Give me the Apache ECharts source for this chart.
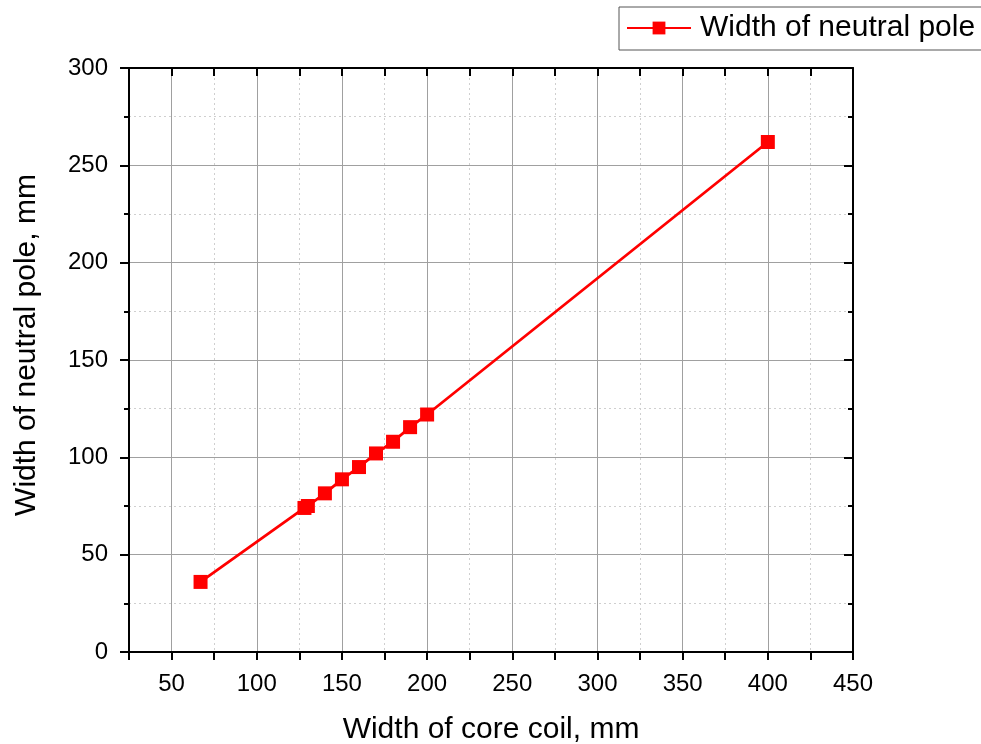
<!DOCTYPE html>
<html>
<head>
<meta charset="utf-8">
<script src="https://cdn.jsdelivr.net/npm/echarts@6/dist/echarts.min.js"></script>
<style>
html,body{margin:0;padding:0;background:#fff;}
#chart{width:981px;height:744px;}
</style>
</head>
<body>
<div id="chart"></div>
<script>
const seriesName = 'Width of neutral pole';
const xName = 'Width of core coil, mm';
const yName = 'Width of neutral pole, mm';
const coreWidth = [67, 128, 130, 140, 150, 160, 170, 180, 190, 200, 400];
const poleWidth = [36, 74, 75, 81.5, 88.7, 95, 102, 108, 115.5, 122, 262];
const xTicks = [50, 100, 150, 200, 250, 300, 350, 400, 450];
const yTicks = [0, 50, 100, 150, 200, 250, 300];

const font = 'Arial, "Liberation Sans", sans-serif';
const data = coreWidth.map((x, i) => [x, poleWidth[i]]);

const chart = echarts.init(document.getElementById('chart'));
chart.setOption({
  animation: false,
  backgroundColor: '#fff',
  textStyle: { fontFamily: font },
  legend: {
    left: 619, top: 7,
    padding: [6, 8, 7, 7],
    borderColor: '#555', borderWidth: 1,
    itemWidth: 64, itemHeight: 16,
    itemGap: 10,
    textStyle: { fontSize: 30, color: '#000', fontFamily: font, padding: [0, 0, 0, 4] },
    data: [seriesName]
  },
  grid: { left: 129, right: 128, top: 68, bottom: 92, outerBoundsMode: 'none', containLabel: false },
  xAxis: [
    {
      type: 'value', position: 'bottom', min: 25, max: 450, interval: 25,
      name: xName, nameLocation: 'middle', nameGap: 63,
      nameTextStyle: { fontSize: 30, color: '#000', fontFamily: font },
      axisLine: { show: true, onZero: false, lineStyle: { color: '#000', width: 2 } },
      axisTick: { show: true, inside: false, length: 8, lineStyle: { color: '#000', width: 2 } },
      axisLabel: {
        fontSize: 24, color: '#000', margin: 20, fontFamily: font,
        formatter: v => (xTicks.indexOf(v) >= 0 ? String(v) : '')
      },
      splitLine: { show: true, lineStyle: { color: ['rgba(0,0,0,0)', '#a0a0a0'], width: 1 } }
    },
    {
      type: 'value', position: 'top', min: 25, max: 450, interval: 25,
      axisLine: { show: true, onZero: false, lineStyle: { color: '#000', width: 2 } },
      axisTick: { show: true, inside: true, length: 8, lineStyle: { color: '#000', width: 2 } },
      axisLabel: { show: false },
      splitLine: { show: true, lineStyle: { color: ['#cfcfcf', 'rgba(0,0,0,0)'], width: 1, type: [2, 3] } }
    }
  ],
  yAxis: [
    {
      type: 'value', position: 'left', min: 0, max: 300, interval: 50,
      name: yName, nameLocation: 'middle', nameGap: 87, nameRotate: 90,
      nameTextStyle: { fontSize: 30, color: '#000', fontFamily: font, padding: [0, 0, 0, 30] },
      axisLine: { show: true, onZero: false, lineStyle: { color: '#000', width: 2 } },
      axisTick: { show: true, inside: false, length: 9, lineStyle: { color: '#000', width: 2 } },
      minorTick: { show: true, splitNumber: 2, length: 5, lineStyle: { color: '#000', width: 2 } },
      axisLabel: { fontSize: 24, color: '#000', margin: 21, fontFamily: font },
      splitLine: { show: true, lineStyle: { color: '#a0a0a0', width: 1 } },
      minorSplitLine: { show: true, lineStyle: { color: '#cfcfcf', width: 1, type: [2, 3] } }
    },
    {
      type: 'value', position: 'right', min: 0, max: 300, interval: 50,
      axisLine: { show: true, onZero: false, lineStyle: { color: '#000', width: 2 } },
      axisTick: { show: true, inside: true, length: 9, lineStyle: { color: '#000', width: 2 } },
      minorTick: { show: true, splitNumber: 2, length: 5, lineStyle: { color: '#000', width: 2 } },
      axisLabel: { show: false },
      splitLine: { show: false }
    }
  ],
  series: [
    {
      name: seriesName, type: 'line', xAxisIndex: 0, yAxisIndex: 0,
      data: data,
      symbol: 'rect', symbolSize: 14,
      lineStyle: { color: '#ff0000', width: 2.8 },
      itemStyle: { color: '#ff0000' },
      z: 5
    }
  ]
});
</script>
</body>
</html>
